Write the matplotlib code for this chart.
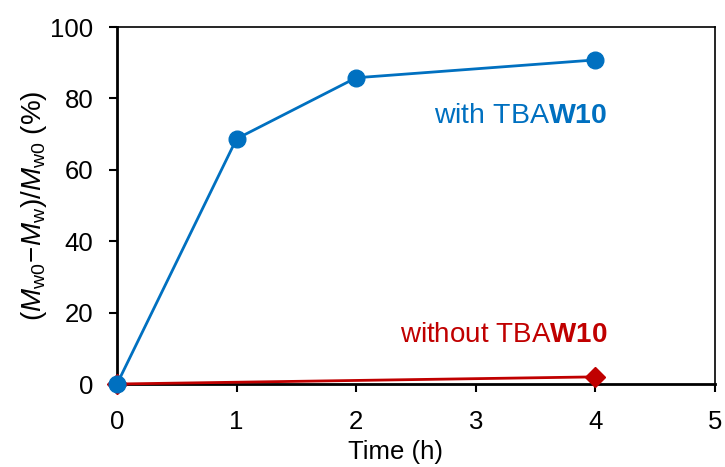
import matplotlib
matplotlib.use("Agg")
import matplotlib.pyplot as plt

plt.rcParams['font.family'] = ['Liberation Sans', 'DejaVu Sans']
plt.rcParams['mathtext.fontset'] = 'custom'
plt.rcParams['mathtext.rm'] = 'Liberation Sans'
plt.rcParams['mathtext.it'] = 'Liberation Sans:italic'
plt.rcParams['mathtext.bf'] = 'Liberation Sans:bold'

# data
t_with = [0, 1, 2, 4]
conv_with = [0, 68.7, 85.8, 90.8]
t_without = [0, 4]
conv_without = [0, 2.0]

blue = '#0070C0'
red = '#C00000'

fig = plt.figure(figsize=(7.25, 4.67), dpi=100, facecolor='w')
ax = fig.add_axes([0.1614, 0.1777, 0.8246, 0.7643])

ax.plot(t_without, conv_without, color=red, lw=2, marker='D', ms=10,
        clip_on=False, zorder=3)
ax.plot(t_with, conv_with, color=blue, lw=2, marker='o', ms=12,
        clip_on=False, zorder=4)

ax.set_xlim(0, 5)
ax.set_ylim(0, 100)
ax.set_xticks(range(0, 6))
ax.set_yticks(range(0, 101, 20))
ax.tick_params(direction='out', length=6, width=1.5, labelsize=18.5)
ax.tick_params(axis='x', pad=13)
ax.tick_params(axis='y', pad=11)

for s in ('left', 'bottom'):
    ax.spines[s].set_linewidth(2)
for s in ('top', 'right'):
    ax.spines[s].set_linewidth(1.2)

# the x title sits left of centre in the original
fig.text(395 / 725, 1 - 452 / 467, 'Time (h)', fontsize=18.5,
         ha='center', va='center')
ax.set_ylabel(r'$(\mathit{M}_\mathrm{w0}\!-\!\mathit{M}_\mathrm{w})/\mathit{M}_\mathrm{w0}$ (%)',
              fontsize=20, labelpad=1)

ax.text(4.1, 75, r'with TBA$\mathbf{W10}$', color=blue, fontsize=20.5,
        ha='right', va='center')
ax.text(4.1, 13.7, r'without TBA$\mathbf{W10}$', color=red, fontsize=20,
        ha='right', va='center')

fig.savefig('out.png', dpi=100)
